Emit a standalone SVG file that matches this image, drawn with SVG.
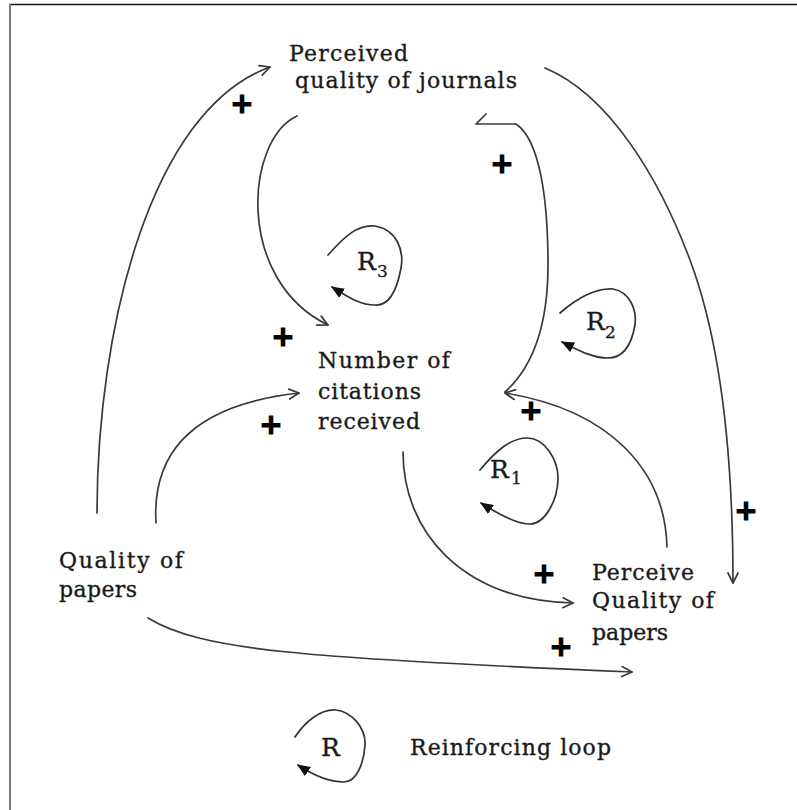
<svg xmlns="http://www.w3.org/2000/svg" width="797" height="810" viewBox="0 0 797 810">
<style>
.lbl{font-family:"DejaVu Serif","Liberation Serif",serif;font-size:22px;fill:#1a1a1a;stroke:#1a1a1a;stroke-width:0.35}
.rl{font-family:"DejaVu Serif","Liberation Serif",serif;font-size:25px;fill:#1a1a1a;stroke:#1a1a1a;stroke-width:0.35}
.sub{font-family:"DejaVu Serif","Liberation Serif",serif;font-size:17px;fill:#1a1a1a;stroke:#1a1a1a;stroke-width:0.3}
.pl{font-family:"DejaVu Sans","Liberation Sans",sans-serif;font-size:28px;font-weight:bold;fill:#000;stroke:#000;stroke-width:1.2;text-anchor:middle}
.c{fill:none;stroke:#3a3a3a;stroke-width:1.7;stroke-linecap:round;stroke-linejoin:round}
.lp{fill:none;stroke:#333;stroke-width:1.7;stroke-linecap:round}
</style>
<defs>
<marker id="open" viewBox="0 0 12 12" refX="11" refY="6" markerWidth="12" markerHeight="12" markerUnits="userSpaceOnUse" orient="auto">
<path d="M1,1 L11,6 L1,11" fill="none" stroke="#3a3a3a" stroke-width="1.7" stroke-linecap="round" stroke-linejoin="round"/>
</marker>
<marker id="fill" viewBox="0 0 12 10" refX="11" refY="5" markerWidth="13" markerHeight="11" markerUnits="userSpaceOnUse" orient="auto">
<path d="M0,0 L12,5 L0,10 Z" fill="#111"/>
</marker>
</defs>
<rect width="797" height="810" fill="#fff"/>
<line x1="9" y1="4.5" x2="797" y2="4.5" stroke="#111" stroke-width="1.5"/>
<line x1="10" y1="4" x2="10" y2="810" stroke="#777" stroke-width="2"/>

<g id="connectors">
<path class="c" d="M97,513 C 97,330 150,110 270,67" marker-end="url(#open)"/>
<path class="c" d="M297,116 C 245,140 235,280 328,325" marker-end="url(#open)"/>
<path class="c" d="M505,392 C 535,365 548,320 548,265 C 548,200 540,140 516,124 L476,124 L486,114"/>
<path class="c" d="M667,547 C 665,470 610,410 505,393" marker-end="url(#open)"/>
<path class="c" d="M156,523 C 152,455 190,405 299,393" marker-end="url(#open)"/>
<path class="c" d="M403,452 C 403,530 460,600 573,603" marker-end="url(#open)"/>
<path class="c" d="M148,618 C 200,650 300,658 632,672" marker-end="url(#open)"/>
<path class="c" d="M545,68 C 610,95 660,180 690,260 C 720,340 733,450 733,583" marker-end="url(#open)"/>
</g>

<g id="signs">
<text class="pl" x="242" y="113">+</text>
<text class="pl" x="502" y="173">+</text>
<text class="pl" x="283" y="346">+</text>
<text class="pl" x="271" y="434">+</text>
<text class="pl" x="531" y="420">+</text>
<text class="pl" x="544" y="583">+</text>
<text class="pl" x="561" y="656">+</text>
<text class="pl" x="746" y="520">+</text>
</g>

<g id="node-journals">
<text class="lbl" x="289" y="61" textLength="119" lengthAdjust="spacing">Perceived</text>
<text class="lbl" x="295" y="88" textLength="222" lengthAdjust="spacing">quality of journals</text>
</g>
<g id="node-citations">
<text class="lbl" x="318" y="368" textLength="132" lengthAdjust="spacing">Number of</text>
<text class="lbl" x="318" y="399" textLength="103" lengthAdjust="spacing">citations</text>
<text class="lbl" x="318" y="429" textLength="102" lengthAdjust="spacing">received</text>
</g>
<g id="node-quality">
<text class="lbl" x="59" y="568" textLength="124" lengthAdjust="spacing">Quality of</text>
<text class="lbl" x="59" y="597" textLength="78" lengthAdjust="spacing">papers</text>
</g>
<g id="node-perceive">
<text class="lbl" x="592" y="580" textLength="102" lengthAdjust="spacing">Perceive</text>
<text class="lbl" x="592" y="608" textLength="122" lengthAdjust="spacing">Quality of</text>
<text class="lbl" x="592" y="640" textLength="76" lengthAdjust="spacing">papers</text>
</g>

<g id="loop-R3">
<path class="lp" d="M328,255 C 345,236 358,224 375,226 C 398,230 404,252 401,268 C 397,290 390,306 375,305 C 360,305 348,297 332,287" marker-end="url(#fill)"/>
<text class="rl" x="357" y="270">R</text><text class="sub" x="377" y="277">3</text>
</g>
<g id="loop-R2">
<path class="lp" d="M560,313 C 575,300 595,288 613,289 C 630,292 637,310 635,325 C 632,342 625,358 608,358 C 592,358 578,350 562,342" marker-end="url(#fill)"/>
<text class="rl" x="586" y="330">R</text><text class="sub" x="605" y="338">2</text>
</g>
<g id="loop-R1">
<path class="lp" d="M480,470 C 495,452 510,438 527,438 C 545,438 558,460 558,478 C 558,500 545,524 530,524 C 515,524 495,512 481,503" marker-end="url(#fill)"/>
<text class="rl" x="490" y="478">R</text><text class="sub" x="511" y="484">1</text>
</g>
<g id="legend">
<path class="lp" d="M295,737 C 305,722 320,709 336,710 C 352,712 366,728 365,745 C 364,762 357,782 344,782 C 330,782 313,775 298,765" marker-end="url(#fill)"/>
<text class="rl" x="321" y="756">R</text>
<text class="lbl" x="410" y="755" textLength="201" lengthAdjust="spacing">Reinforcing loop</text>
</g>
</svg>
